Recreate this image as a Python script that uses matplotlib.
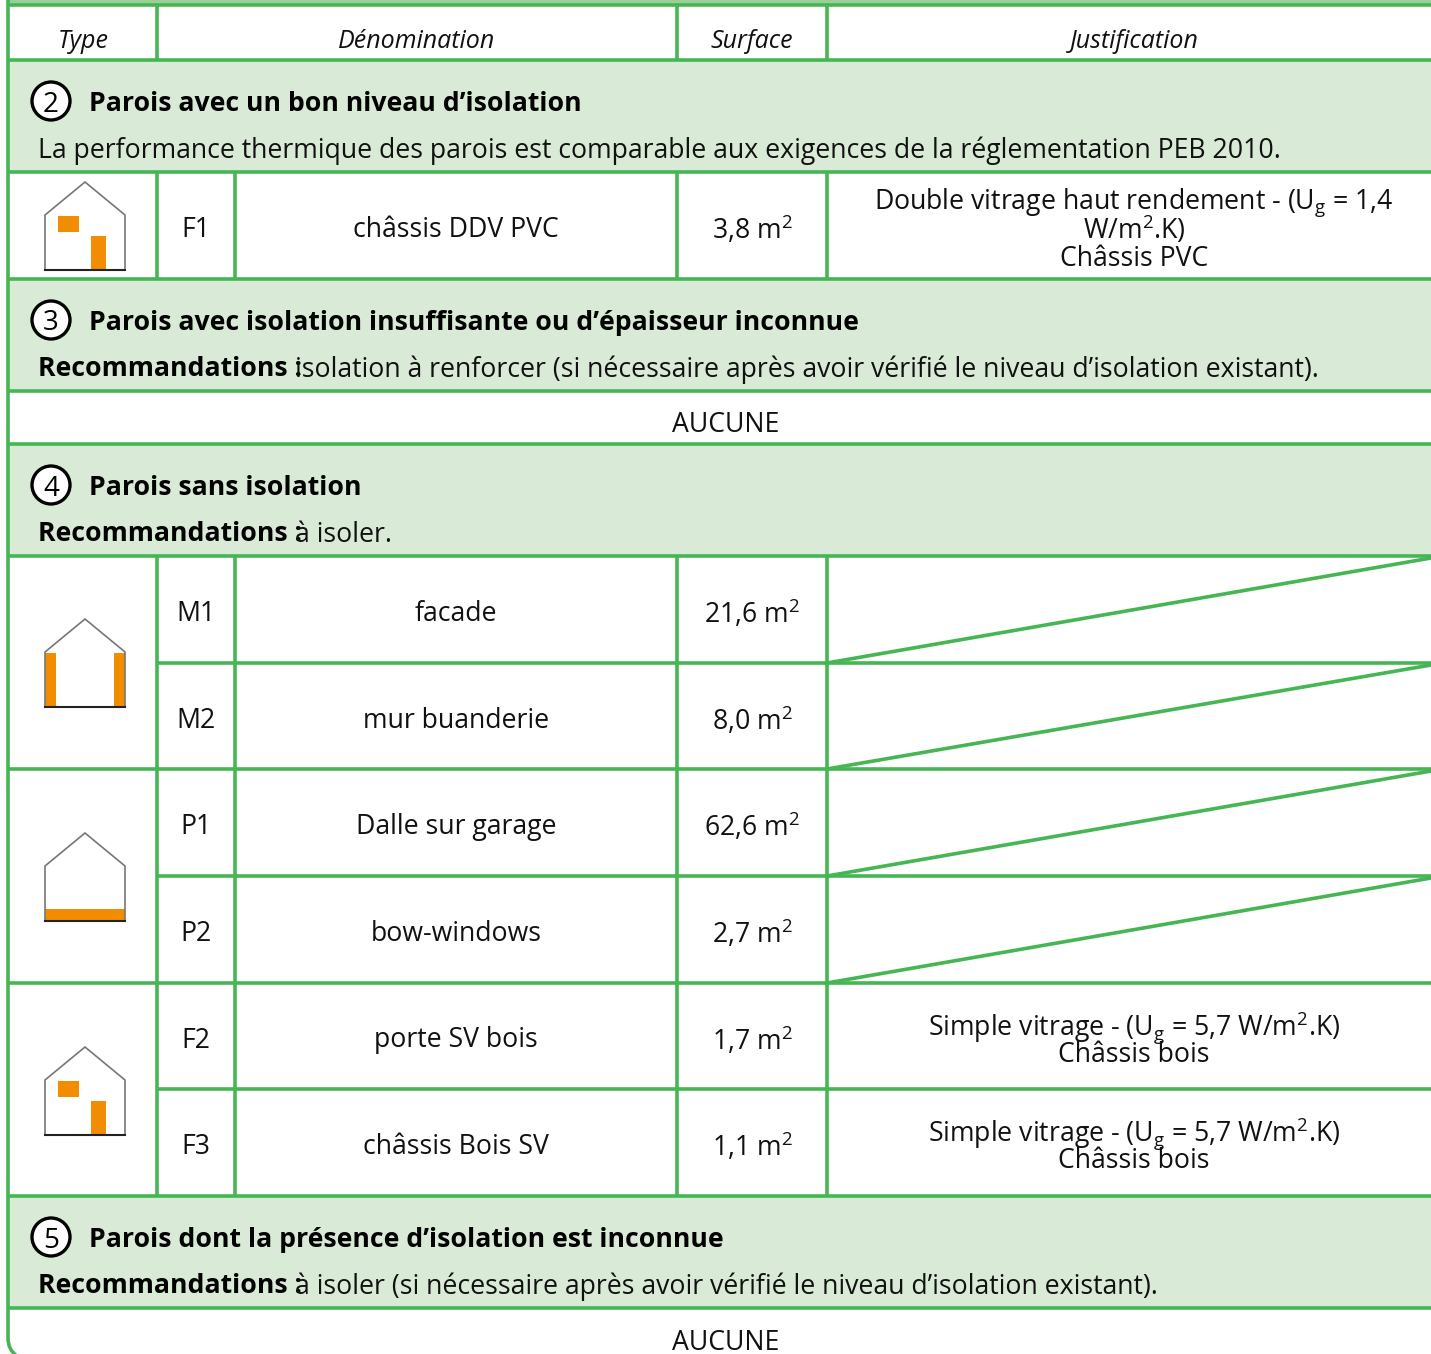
import matplotlib
matplotlib.use('Agg')
import matplotlib.pyplot as plt
from matplotlib.patches import Rectangle, Circle, Polygon
from matplotlib.path import Path
from matplotlib.patches import PathPatch

FONT = 'Open Sans'
plt.rcParams['font.family'] = [FONT, 'DejaVu Sans']
plt.rcParams['mathtext.fontset'] = 'custom'
plt.rcParams['mathtext.rm'] = FONT
plt.rcParams['mathtext.default'] = 'rm'

GREEN = '#45b653'
BAND = '#d9ebd6'
ORANGE = '#f28c00'
W, H = 1431, 1354
BODY = 19.2

headers = ['Type', 'Dénomination', 'Surface', 'Justification']

section_nums = ['2', '3', '4', '5']
section_titles = [
    'Parois avec un bon niveau d’isolation',
    'Parois avec isolation insuffisante ou d’épaisseur inconnue',
    'Parois sans isolation',
    'Parois dont la présence d’isolation est inconnue',
]
section_notes = [
    'La performance thermique des parois est comparable aux exigences de la réglementation PEB 2010.',
    'isolation à renforcer (si nécessaire après avoir vérifié le niveau d’isolation existant).',
    'à isoler.',
    'à isoler (si nécessaire après avoir vérifié le niveau d’isolation existant).',
]
section_bold = ['', 'Recommandations : ', 'Recommandations : ', 'Recommandations : ']
section_tops = [60, 279, 444, 1196]
none_label = 'AUCUNE'
none_y = [421, 1339]

types = ['F1', 'M1', 'M2', 'P1', 'P2', 'F2', 'F3']
names = ['châssis DDV PVC', 'facade', 'mur buanderie', 'Dalle sur garage', 'bow-windows',
         'porte SV bois', 'châssis Bois SV']
surfaces = ['3,8', '21,6', '8,0', '62,6', '2,7', '1,7', '1,1']
notes = [
    ['Double vitrage haut rendement - (U$_{g}$ = 1,4', 'W/m$^{2}$.K)', 'Châssis PVC'],
    None, None, None, None,
    ['Simple vitrage - (U$_{g}$ = 5,7 W/m$^{2}$.K)', 'Châssis bois'],
    ['Simple vitrage - (U$_{g}$ = 5,7 W/m$^{2}$.K)', 'Châssis bois'],
]
row_tops = [172, 556, 663, 769, 876, 983, 1089]
row_bottoms = [279, 663, 769, 876, 983, 1089, 1196]

icon_kinds = ['openings', 'walls', 'floor', 'openings']
icon_tops = [182, 619, 833, 1047]

fig = plt.figure(figsize=(W / 100, H / 100), dpi=100)
ax = fig.add_axes([0, 0, 1, 1])
ax.set_xlim(0, W)
ax.set_ylim(H, 0)
ax.axis('off')


def hline(y, x0=8, x1=W):
    ax.plot([x0, x1], [y, y], color=GREEN, lw=2.6, solid_capstyle='butt', zorder=3)


def vline(x, y0, y1):
    ax.plot([x, x], [y0, y1], color=GREEN, lw=2.6, solid_capstyle='butt', zorder=3)


def label(x, y, s, **kw):
    kw.setdefault('fontsize', BODY)
    kw.setdefault('ha', 'center')
    kw.setdefault('va', 'center_baseline')
    kw.setdefault('color', '#111111')
    return ax.text(x, y, s, zorder=5, **kw)


def draw_icon(kind, top):
    ax.add_patch(Polygon([(45, top + 88), (45, top + 33), (85, top), (125, top + 33), (125, top + 88)],
                         closed=False, fill=False, ec='#777777', lw=1.2, zorder=4))
    ax.plot([45, 125], [top + 88, top + 88], color='#222222', lw=1.5, zorder=4)
    parts = {
        'openings': [(58, 34, 21, 16), (91, 54, 15, 34)],
        'walls': [(45, 34, 11, 54), (114, 34, 11, 54)],
        'floor': [(45, 76, 80, 11)],
    }
    for (x, y, w, h) in parts[kind]:
        ax.add_patch(Rectangle((x, top + y), w, h, fc=ORANGE, ec='none', zorder=3))


# top strip and section bands
ax.add_patch(Rectangle((8, 0), W, 5, fc='#9bcf98', ec='none'))
for top, h in zip(section_tops, [112, 112, 112, 112]):
    ax.add_patch(Rectangle((8, top), W, h, fc=BAND, ec='none'))

# horizontal rules
for y in [5, 60, 172, 279, 391, 444, 556, 769, 983, 1196, 1308]:
    hline(y)
for y in [663, 876, 1089]:
    hline(y, x0=157)

# vertical rules
for x in [157, 677, 827]:
    vline(x, 5, 60)
for x in [157, 235, 677, 827]:
    vline(x, 172, 279)
    vline(x, 556, 1196)

# left border with its rounded corner
left = Path([(8, 0), (8, 1338), (8, 1350), (17, 1356)],
            [Path.MOVETO, Path.LINETO, Path.CURVE3, Path.CURVE3])
ax.add_patch(PathPatch(left, fill=False, ec=GREEN, lw=2.6, zorder=3))

# header
for x, s in zip([83, 417, 752, 1134], headers):
    label(x, 38, s, style='italic', fontsize=18)

# sections
for num, title, bold, note, top in zip(section_nums, section_titles, section_bold, section_notes, section_tops):
    ax.add_patch(Circle((51, top + 41), 19, fc='white', ec='black', lw=2.4, zorder=4))
    label(51, top + 41, num, fontsize=20, color='black')
    label(89, top + 41, title, ha='left', fontweight='bold', fontsize=BODY, color='black')
    t = label(38, top + 87, bold, ha='left', fontweight='bold', color='black')
    fig.canvas.draw()
    x = 38
    if bold:
        x = 295
    label(x, top + 87, note, ha='left')

for y in none_y:
    label(726, y, none_label)

# rows
for typ, name, surf, note, y0, y1 in zip(types, names, surfaces, notes, row_tops, row_bottoms):
    y = (y0 + y1) / 2 + 1
    label(196, y, typ)
    label(456, y, name)
    label(752, y, surf + ' m$^{2}$')
    if note is None:
        ax.plot([827, W], [y1, y0 + 2], color=GREEN, lw=2.6, zorder=3, clip_on=True)
    else:
        n = len(note)
        for i, line in enumerate(note):
            label(1134, y - (n - 1) * 14.5 + i * 29, line)

for kind, top in zip(icon_kinds, icon_tops):
    draw_icon(kind, top)

fig.savefig('out.png', dpi=100, facecolor='white')
